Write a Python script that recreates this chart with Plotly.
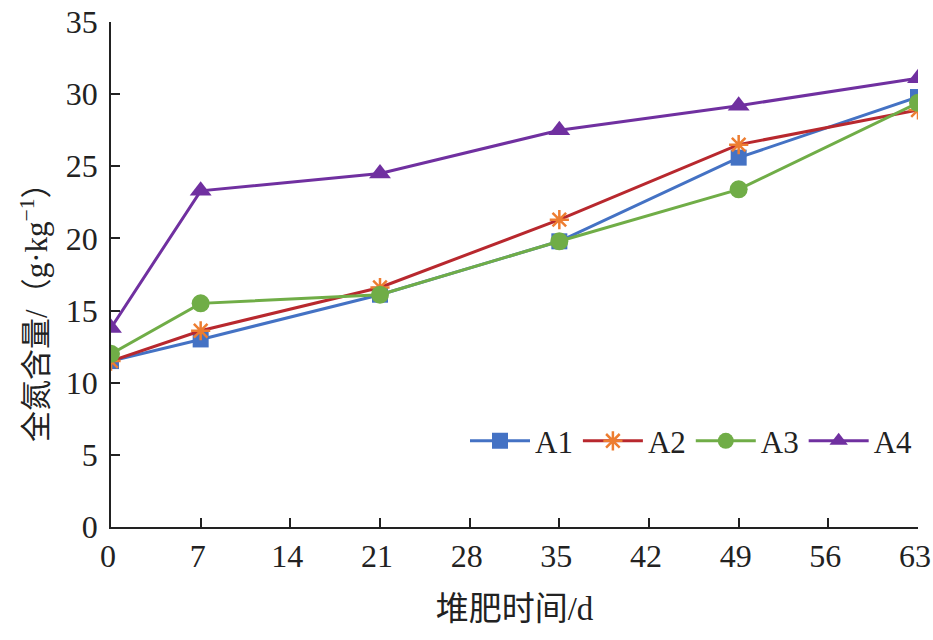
import plotly.graph_objects as go

days = [0, 7, 21, 35, 49, 63]
a1 = [11.5, 13.0, 16.1, 19.8, 25.6, 29.8]
a2 = [11.5, 13.6, 16.6, 21.3, 26.5, 28.9]
a3 = [12.0, 15.5, 16.1, 19.8, 23.4, 29.4]
a4 = [13.8, 23.3, 24.5, 27.5, 29.2, 31.1]
x_ticks = [0, 7, 14, 21, 28, 35, 42, 49, 56, 63]
y_ticks = [0, 5, 10, 15, 20, 25, 30, 35]

FONT = "Liberation Serif, Times New Roman, Noto Sans CJK SC"

fig = go.Figure()
fig.add_trace(go.Scatter(x=days, y=a1, mode="lines+markers", name="A1",
                         line=dict(color="#4472C4", width=3),
                         marker=dict(symbol="square", size=16, color="#4472C4")))
fig.add_trace(go.Scatter(x=days, y=a2, mode="lines+markers", name="A2",
                         line=dict(color="#B8282E", width=3),
                         marker=dict(symbol="asterisk-open", size=16, color="#ED7D31",
                                     line=dict(color="#ED7D31", width=2.5))))
fig.add_trace(go.Scatter(x=days, y=a3, mode="lines+markers", name="A3",
                         line=dict(color="#70AD47", width=3),
                         marker=dict(symbol="circle", size=18, color="#70AD47")))
fig.add_trace(go.Scatter(x=days, y=a4, mode="lines+markers", name="A4",
                         line=dict(color="#7030A0", width=3),
                         marker=dict(symbol="triangle-up", size=19, color="#7030A0")))

fig.update_layout(
    width=933, height=640,
    paper_bgcolor="white", plot_bgcolor="white",
    margin=dict(l=111, r=15, t=22, b=113),
    font=dict(family=FONT, size=28, color="#222"),
    showlegend=True,
    legend=dict(orientation="h", x=1.0, xanchor="right", y=0.17, yanchor="middle",
                font=dict(size=31), itemwidth=60, bgcolor="rgba(0,0,0,0)",
                tracegroupgap=0),
)
fig.update_xaxes(range=[0, 63], tickvals=x_ticks, ticks="inside", ticklen=9,
                 tickwidth=1.5, tickcolor="#222", showline=True, linecolor="#222",
                 linewidth=1.5, showgrid=False, zeroline=False, automargin=False,
                 tickfont=dict(size=32), ticklabeloverflow="allow", ticklabelshift=-3,
                 title=dict(text="堆肥时间/d", standoff=24, font=dict(size=33)))
fig.update_yaxes(range=[0, 35], tickvals=y_ticks, ticks="inside", ticklen=9,
                 tickwidth=1.5, tickcolor="#222", showline=True, linecolor="#222",
                 linewidth=1.5, showgrid=False, zeroline=False, automargin=False,
                 tickfont=dict(size=32), ticklabeloverflow="allow", ticklabelstandoff=5)

# y title as annotation so it can sit a bit below centre like the original
fig.add_annotation(text="全氮含量/（g·kg<sup>−1</sup>）", textangle=-90,
                   xref="paper", yref="paper", x=-0.094, y=0.44,
                   xanchor="center", yanchor="middle", showarrow=False,
                   font=dict(size=31))

# drop the default 8px body margin so the figure fills the window exactly
fig.write_html("out.html", config={"displayModeBar": False},
               post_script="document.body.style.margin='0';"
                           "document.body.style.overflow='hidden';")
